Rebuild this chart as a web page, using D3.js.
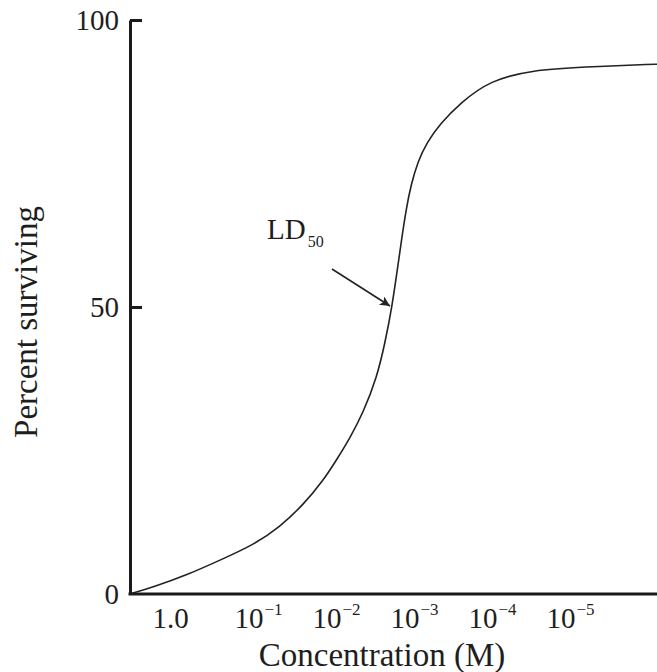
<!DOCTYPE html>
<html>
<head>
<meta charset="utf-8">
<script src="https://cdn.jsdelivr.net/npm/d3@7/dist/d3.min.js"></script>
<style>
  html, body { margin: 0; padding: 0; background: #fff; }
  svg { display: block; }
  text { font-family: "Liberation Serif", "Times New Roman", serif; fill: #1e1e1e; }
</style>
</head>
<body>
<svg id="chart" width="657" height="672"></svg>
<script>
// ---- data (log10 of molar concentration, percent surviving) ----
const logConc = [0.513, 0.218, -0.218, -0.641, -1.064, -1.410, -1.705, -1.962, -2.141, -2.308,
                 -2.474, -2.654, -2.756, -2.846, -2.923, -2.974, -3.026, -3.090, -3.179, -3.295,
                 -3.462, -3.718, -4.103, -4.654, -5.295, -6.154, -6.244];
const percentSurviving = [0, 1.2, 3.3, 5.9, 8.5, 11.7, 15.5, 19.7, 23.5, 27.2,
                          31.5, 37.8, 43.7, 50.0, 57.3, 62.2, 66.9, 71.3, 75.4, 78.7,
                          81.9, 85.5, 89.5, 91.3, 91.8, 92.3, 92.3];
const xTickValues = [1, 1e-1, 1e-2, 1e-3, 1e-4, 1e-5];
const xTickBase = ["1.0", "10", "10", "10", "10", "10"];
const xTickExp = ["", "\u22121", "\u22122", "\u22123", "\u22124", "\u22125"];
const yTickValues = [0, 50, 100];
const ld50 = { logConc: -2.846, percent: 50, label: "LD", sub: "50" };
const xTitle = "Concentration (M)";
const yTitle = "Percent surviving";

(function () {
const svg = d3.select("#chart");
const mLeft = 130, mRight = 657, mTop = 20, mBottom = 594;

const x = d3.scaleLog()
  .domain([Math.pow(10, logConc[0]), Math.pow(10, logConc[logConc.length - 1])])
  .range([mLeft, mRight]);
const y = d3.scaleLinear().domain([0, 100]).range([mBottom, mTop]);

const data = logConc.map((e, i) => ({ c: Math.pow(10, e), p: percentSurviving[i] }));

// curve
svg.append("path")
  .datum(data)
  .attr("fill", "none")
  .attr("stroke", "#222")
  .attr("stroke-width", 1.6)
  .attr("d", d3.line().x(d => x(d.c)).y(d => y(d.p)).curve(d3.curveBasis));

// y axis
const yAxis = svg.append("g")
  .attr("transform", `translate(${mLeft},0)`)
  .call(d3.axisLeft(y).tickValues(yTickValues).tickSizeInner(-12).tickSizeOuter(0).tickPadding(11)
        .tickFormat(d3.format("d")));
yAxis.select(".domain").attr("stroke", "#1a1a1a").attr("stroke-width", 3);
yAxis.selectAll(".tick line").attr("stroke", "#1a1a1a").attr("stroke-width", 3)
  .filter(d => d === 0).remove();
yAxis.selectAll(".tick text").attr("font-size", 29).attr("font-family", null).attr("fill", "#1e1e1e")
  .attr("dy", "0.34em");

// x axis
const xAxis = svg.append("g")
  .attr("transform", `translate(0,${mBottom})`)
  .call(d3.axisBottom(x).tickValues(xTickValues).tickSize(0).tickPadding(13).tickFormat(() => ""));
xAxis.select(".domain").attr("stroke", "#1a1a1a").attr("stroke-width", 3)
  .attr("d", `M${mLeft - 1.5},0H${mRight}`);
xAxis.selectAll(".tick text").each(function (d, i) {
  const t = d3.select(this)
    .attr("font-size", 29).attr("font-family", null).attr("fill", "#1e1e1e");
  if (xTickExp[i]) {
    t.attr("text-anchor", "start").attr("x", -14);
    t.append("tspan").text(xTickBase[i]);
    t.append("tspan").text(xTickExp[i]).attr("font-size", 17).attr("dy", "-0.75em").attr("dx", 1);
  } else {
    t.text(xTickBase[i]);
  }
});

// titles
svg.append("text")
  .attr("x", 382).attr("y", 666)
  .attr("text-anchor", "middle").attr("font-size", 33)
  .text(xTitle);
svg.append("text")
  .attr("transform", `translate(37,${(mTop + mBottom) / 2 + 15}) rotate(-90)`)
  .attr("text-anchor", "middle").attr("font-size", 33)
  .text(yTitle);

// LD50 annotation
svg.append("defs").append("marker")
  .attr("id", "arrow").attr("viewBox", "0 0 10 10").attr("refX", 10).attr("refY", 5)
  .attr("markerWidth", 12).attr("markerHeight", 10).attr("markerUnits", "userSpaceOnUse")
  .attr("orient", "auto")
  .append("path").attr("d", "M0,0L10,5L0,10L2.5,5Z").attr("fill", "#222");

const tipX = x(Math.pow(10, ld50.logConc)) - 2, tipY = y(ld50.percent) - 1;
svg.append("line")
  .attr("x1", tipX - 58).attr("y1", tipY - 37)
  .attr("x2", tipX).attr("y2", tipY)
  .attr("stroke", "#222").attr("stroke-width", 1.6)
  .attr("marker-end", "url(#arrow)");

const lab = svg.append("text").attr("x", tipX - 123).attr("y", tipY - 67).attr("font-size", 29);
lab.append("tspan").text(ld50.label);
lab.append("tspan").text(ld50.sub).attr("font-size", 16).attr("dy", 8).attr("dx", 2);
})();
</script>
</body>
</html>
